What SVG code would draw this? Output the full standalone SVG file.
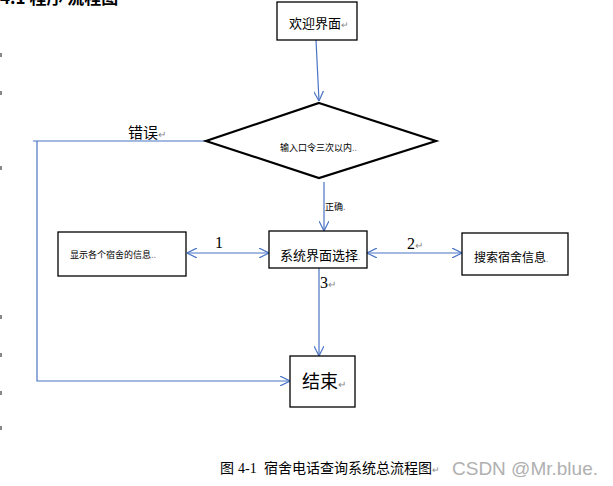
<svg xmlns="http://www.w3.org/2000/svg" width="613" height="486" viewBox="0 0 613 486">
<style>
.box{fill:#fff;stroke:#000;stroke-width:1.3}
.dia{fill:#fff;stroke:#000;stroke-width:2.2}
.t{font-family:"Noto Sans CJK SC","Liberation Sans",sans-serif;fill:#000}
.s{font-family:"Liberation Serif","Noto Sans CJK SC",serif;fill:#000}
.m{fill:#888}
.c{fill:none;stroke:#4a74c4;stroke-width:1.2}
.tick{fill:#888}
</style>
<defs>
<marker id="ah" viewBox="0 0 10 10" refX="10" refY="5" markerWidth="10" markerHeight="10" markerUnits="userSpaceOnUse" orient="auto-start-reverse">
<path d="M0,0 L10,5 L0,10" fill="none" stroke="#4a74c4" stroke-width="1.2"/>
</marker>
</defs>
<rect width="613" height="486" fill="#fff"/>
<text x="0" y="4" font-size="17" font-weight="bold" class="t">4.1 程序 流程图</text>
<g id="ticks">
<rect class="tick" x="0" y="53" width="2" height="4"/>
<rect class="tick" x="0" y="91" width="2" height="4"/>
<rect class="tick" x="0" y="166" width="2" height="4"/>
<rect class="tick" x="0" y="315" width="2" height="4"/>
<rect class="tick" x="0" y="353" width="2" height="4"/>
<rect class="tick" x="0" y="391" width="2" height="4"/>
<rect class="tick" x="0" y="426" width="2" height="4"/>
</g>
<g id="connectors">
<path class="c" d="M316,40 L319,101" marker-end="url(#ah)"/>
<path class="c" d="M324,182 L324,231" marker-end="url(#ah)"/>
<path class="c" d="M187,253 L269,253" marker-start="url(#ah)" marker-end="url(#ah)"/>
<path class="c" d="M367,253 L462,253" marker-start="url(#ah)" marker-end="url(#ah)"/>
<path class="c" d="M319,268 L319,356" marker-end="url(#ah)"/>
<path class="c" d="M205,141 L33,141 M37,141 L37,381 L290,381" marker-end="url(#ah)"/>
<text x="128" y="138" font-size="15" class="t">错误<tspan class="m" font-size="10">↵</tspan></text>
<text x="325" y="210" font-size="9" class="t">正确<tspan class="m">.</tspan></text>
<text x="215" y="248" font-size="16" class="s">1</text>
<text x="407" y="249" font-size="16" class="s">2<tspan class="m" font-size="10">↵</tspan></text>
<text x="320" y="288" font-size="16" class="s">3<tspan class="m" font-size="10">↵</tspan></text>
</g>
<g id="welcome">
<rect class="box" x="277" y="2" width="80" height="38"/>
<text x="289" y="28" font-size="13" class="t">欢迎界面<tspan class="m" font-size="9">↵</tspan></text>
</g>
<g id="decision">
<polygon class="dia" points="319,103 436,141 319,178 206,141"/>
<text x="280" y="151" font-size="9" class="t">输入口令三次以内<tspan class="m">..</tspan></text>
</g>
<g id="system">
<rect class="box" x="269" y="231" width="98" height="37"/>
<text x="280" y="260" font-size="13" class="t">系统界面选择<tspan class="m" font-size="8">.</tspan></text>
</g>
<g id="show">
<rect class="box" x="58" y="232" width="128" height="44"/>
<text x="70" y="258" font-size="9" class="t">显示各个宿舍的信息<tspan class="m">..</tspan></text>
</g>
<g id="search">
<rect class="box" x="462" y="233" width="106" height="42"/>
<text x="474" y="262" font-size="12" class="t">搜索宿舍信息<tspan class="m" font-size="8">.</tspan></text>
</g>
<g id="end">
<rect class="box" x="290" y="356" width="65" height="51"/>
<text x="302" y="388" font-size="18" class="t">结束<tspan class="m" font-size="10">↵</tspan></text>
</g>
<text x="220" y="473" font-size="14" class="t">图<tspan x="238" class="s">4-1</tspan><tspan x="264">宿舍电话查询系统总流程图</tspan><tspan class="m" font-size="9">↵</tspan></text>
<text x="452" y="475" font-size="19" font-family="Liberation Sans,sans-serif" fill="#b0b0b0">CSDN @Mr.blue.</text>
</svg>
